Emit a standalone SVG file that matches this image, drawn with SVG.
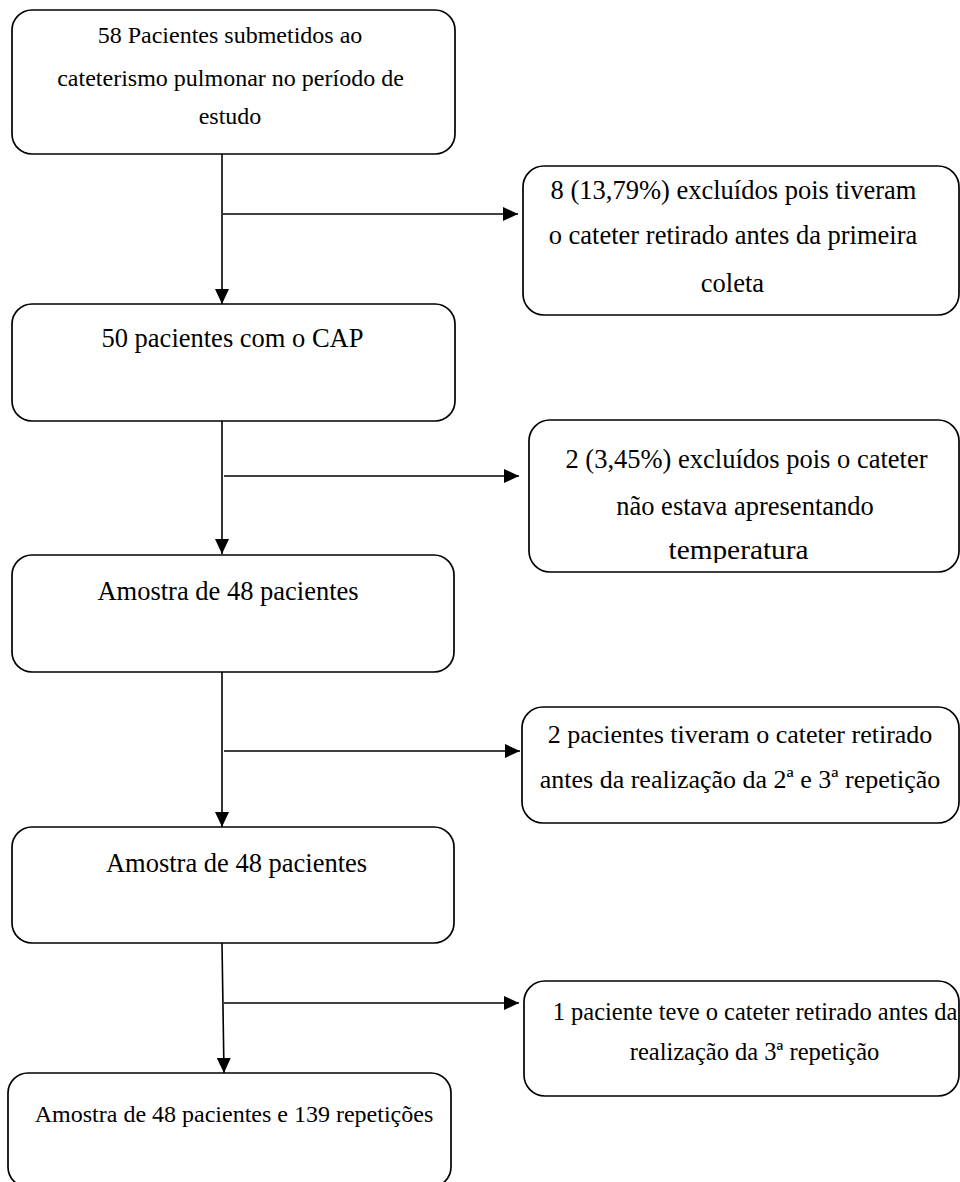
<svg xmlns="http://www.w3.org/2000/svg" width="960" height="1182" viewBox="0 0 960 1182">
  <style>
    .box { fill: #ffffff; stroke: #000000; stroke-width: 1.7; }
    .conn { fill: none; stroke: #000000; stroke-width: 1.6; }
    .t { font-family: "Liberation Serif", "Times New Roman", "DejaVu Serif", serif; fill: #000000; text-anchor: middle; }
    .s { font-size: 24px; }
    .m { font-size: 26.5px; }
    .m2 { font-size: 26px; }
    .m3 { font-size: 24.5px; }
  </style>
  <defs>
    <marker id="arrow" markerUnits="userSpaceOnUse" markerWidth="16" markerHeight="14" refX="15" refY="7" orient="auto">
      <path d="M0,0 L15,7 L0,14 z" fill="#000000"/>
    </marker>
    <clipPath id="clipTemp">
      <rect x="529" y="420" width="430" height="143"/>
    </clipPath>
  </defs>
  <rect width="960" height="1182" fill="#ffffff"/>

  <g id="connectors">
    <line class="conn" x1="222" y1="154" x2="222" y2="304" marker-end="url(#arrow)"/>
    <line class="conn" x1="223" y1="214" x2="518" y2="214" marker-end="url(#arrow)"/>
    <line class="conn" x1="222" y1="421" x2="222" y2="554" marker-end="url(#arrow)"/>
    <line class="conn" x1="224" y1="476" x2="519" y2="476" marker-end="url(#arrow)"/>
    <line class="conn" x1="222" y1="672" x2="222" y2="827" marker-end="url(#arrow)"/>
    <line class="conn" x1="224" y1="751" x2="520" y2="751" marker-end="url(#arrow)"/>
    <line class="conn" x1="222" y1="943" x2="224" y2="1073" marker-end="url(#arrow)"/>
    <line class="conn" x1="224" y1="1003" x2="519" y2="1003" marker-end="url(#arrow)"/>
  </g>

  <g id="node1">
    <rect class="box" x="12" y="10" width="443" height="144" rx="20" ry="20"/>
    <text class="t s" x="230" y="43">58 Pacientes submetidos ao</text>
    <text class="t s" x="230.5" y="86">cateterismo pulmonar no período de</text>
    <text class="t s" x="230" y="124">estudo</text>
  </g>

  <g id="excl1">
    <rect class="box" x="523" y="166" width="436" height="149" rx="21" ry="21"/>
    <text class="t m" x="733.5" y="199">8 (13,79%) excluídos pois tiveram</text>
    <text class="t m" x="733" y="244">o cateter retirado antes da primeira</text>
    <text class="t m" x="732.5" y="292">coleta</text>
  </g>

  <g id="node2">
    <rect class="box" x="12" y="304" width="443" height="117" rx="20" ry="20"/>
    <text class="t m" x="232.5" y="347">50 pacientes com o CAP</text>
  </g>

  <g id="excl2">
    <rect class="box" x="529" y="420" width="430" height="152" rx="21" ry="21"/>
    <text class="t m" x="746.5" y="468">2 (3,45%) excluídos pois o cateter</text>
    <text class="t m" x="745" y="515">não estava apresentando</text>
    <text class="t m" x="738.5" y="559" textLength="140" lengthAdjust="spacingAndGlyphs" clip-path="url(#clipTemp)">temperatura</text>
  </g>

  <g id="node3">
    <rect class="box" x="12" y="555" width="442" height="117" rx="20" ry="20"/>
    <text class="t m" x="228" y="600">Amostra de 48 pacientes</text>
  </g>

  <g id="excl3">
    <rect class="box" x="522" y="707" width="437" height="116" rx="21" ry="21"/>
    <text class="t m2" x="740" y="743">2 pacientes tiveram o cateter retirado</text>
    <text class="t m2" x="740" y="788">antes da realização da 2ª e 3ª repetição</text>
  </g>

  <g id="node4">
    <rect class="box" x="12" y="827" width="442" height="116" rx="20" ry="20"/>
    <text class="t m" x="236.5" y="872">Amostra de 48 pacientes</text>
  </g>

  <g id="excl4">
    <rect class="box" x="524" y="981" width="435" height="115" rx="21" ry="21"/>
    <text class="t m3" x="755" y="1020">1 paciente teve o cateter retirado antes da</text>
    <text class="t m3" x="754.5" y="1060">realização da 3ª repetição</text>
  </g>

  <g id="node5">
    <rect class="box" x="8" y="1073" width="443" height="114" rx="20" ry="20"/>
    <text class="t s" x="234" y="1122">Amostra de 48 pacientes e 139 repetições</text>
  </g>
</svg>
